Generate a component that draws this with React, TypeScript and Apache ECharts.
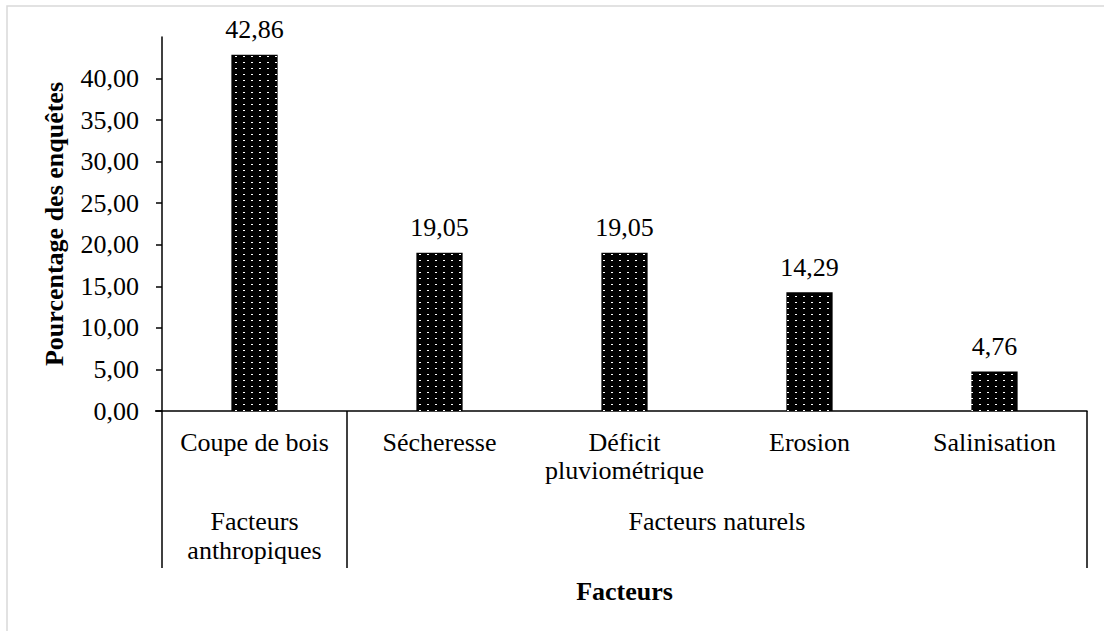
import React, { useEffect, useRef } from "react";
import * as echarts from "echarts";

// Survey results: share of respondents citing each degradation factor
const categories = ["Coupe de bois", "Sécheresse", "Déficit\npluviométrique", "Erosion", "Salinisation"];
const values = [42.86, 19.05, 19.05, 14.29, 4.76];

// Second-level grouping of the categories (number of categories in each group)
const groupNames = ["Facteurs\nanthropiques", "Facteurs naturels"];
const groupSpans = [1, 4];

const yTicks = [0, 5, 10, 15, 20, 25, 30, 35, 40];
const yMax = 45;

const FONT = "'Liberation Serif', 'Times New Roman', serif";
const SIZE = 26;

const fmt = (v: number) => v.toFixed(2).replace(".", ",");

function makeDotTile(): HTMLCanvasElement {
  const c = document.createElement("canvas");
  c.width = 8;
  c.height = 6;
  const ctx = c.getContext("2d")!;
  ctx.fillStyle = "#000";
  ctx.fillRect(0, 0, 8, 6);
  ctx.fillStyle = "#fff";
  ctx.fillRect(3, 2, 2, 1);
  return c;
}

export default function App() {
  const ref = useRef<HTMLDivElement>(null);

  useEffect(() => {
    const el = ref.current!;
    const chart = echarts.init(el, null, { renderer: "svg" });
    const tile = makeDotTile();

    chart.setOption({
      animation: false,
      backgroundColor: "#fff",
      grid: { left: 162, right: 17, top: 37, bottom: 220 },
      xAxis: {
        type: "category",
        data: categories,
        name: "Facteurs",
        nameLocation: "middle",
        nameGap: 167,
        nameTextStyle: { fontFamily: FONT, fontSize: SIZE, fontWeight: "bold", color: "#000" },
        axisLine: { lineStyle: { color: "#000", width: 1.5 } },
        axisTick: { show: false },
        axisLabel: {
          interval: 0,
          margin: 17,
          fontFamily: FONT,
          fontSize: SIZE,
          lineHeight: 28,
          color: "#000",
        },
      },
      yAxis: {
        type: "value",
        min: 0,
        max: yMax,
        interval: 5,
        name: "Pourcentage des enquêtes",
        nameLocation: "middle",
        nameGap: 95,
        nameRotate: 90,
        nameTextStyle: { fontFamily: FONT, fontSize: SIZE, fontWeight: "bold", color: "#000" },
        splitLine: { show: false },
        axisLine: { show: true, lineStyle: { color: "#000", width: 1.5 } },
        axisTick: { show: true, length: 6, lineStyle: { color: "#000", width: 1.5 }, customValues: yTicks },
        axisLabel: {
          customValues: yTicks,
          margin: 23,
          fontFamily: FONT,
          fontSize: SIZE,
          color: "#000",
          formatter: (v: number) => fmt(v),
        },
      },
      series: [
        {
          type: "bar",
          data: values,
          barWidth: "25%",
          itemStyle: { color: { image: tile, repeat: "repeat" } },
          label: {
            show: true,
            position: "top",
            distance: 12,
            fontFamily: FONT,
            fontSize: SIZE,
            color: "#000",
            formatter: (p: any) => fmt(p.value),
          },
        },
      ],
    });

    // Multi-level axis decorations placed from the axis scales
    const xPix = (i: number) => chart.convertToPixel({ xAxisIndex: 0 }, i) as number;
    const baseY = chart.convertToPixel({ yAxisIndex: 0 }, 0) as number;
    const band = xPix(1) - xPix(0);
    const edge = (i: number) => xPix(0) + (i - 0.5) * band;
    const lineStyle = { stroke: "#000", lineWidth: 1.5 };
    const dividerLen = 157;

    const elements: any[] = [
      {
        type: "rect",
        shape: { x: 7, y: 6, width: 1200, height: 700 },
        style: { fill: "none", stroke: "#d9d9d9", lineWidth: 1.5 },
        silent: true,
      },
      {
        type: "line",
        shape: { x1: edge(0) - 7, y1: baseY, x2: edge(0), y2: baseY },
        style: lineStyle,
      },
    ];

    let start = 0;
    const boundaries = [0];
    groupNames.forEach((name, g) => {
      const end = start + groupSpans[g];
      boundaries.push(end);
      elements.push({
        type: "text",
        x: (edge(start) + edge(end)) / 2,
        y: baseY + 96,
        style: {
          text: name,
          fontFamily: FONT,
          fontSize: SIZE,
          lineHeight: 29,
          fill: "#000",
          align: "center",
          verticalAlign: "top",
        },
      });
      start = end;
    });
    boundaries.forEach((b) => {
      elements.push({
        type: "line",
        shape: { x1: edge(b), y1: baseY, x2: edge(b), y2: baseY + dividerLen },
        style: lineStyle,
      });
    });

    chart.setOption({ graphic: { elements } });

    return () => chart.dispose();
  }, []);

  return (
    <div
      ref={ref}
      style={{ position: "fixed", left: 0, top: 0, width: 1104, height: 631 }}
    />
  );
}
